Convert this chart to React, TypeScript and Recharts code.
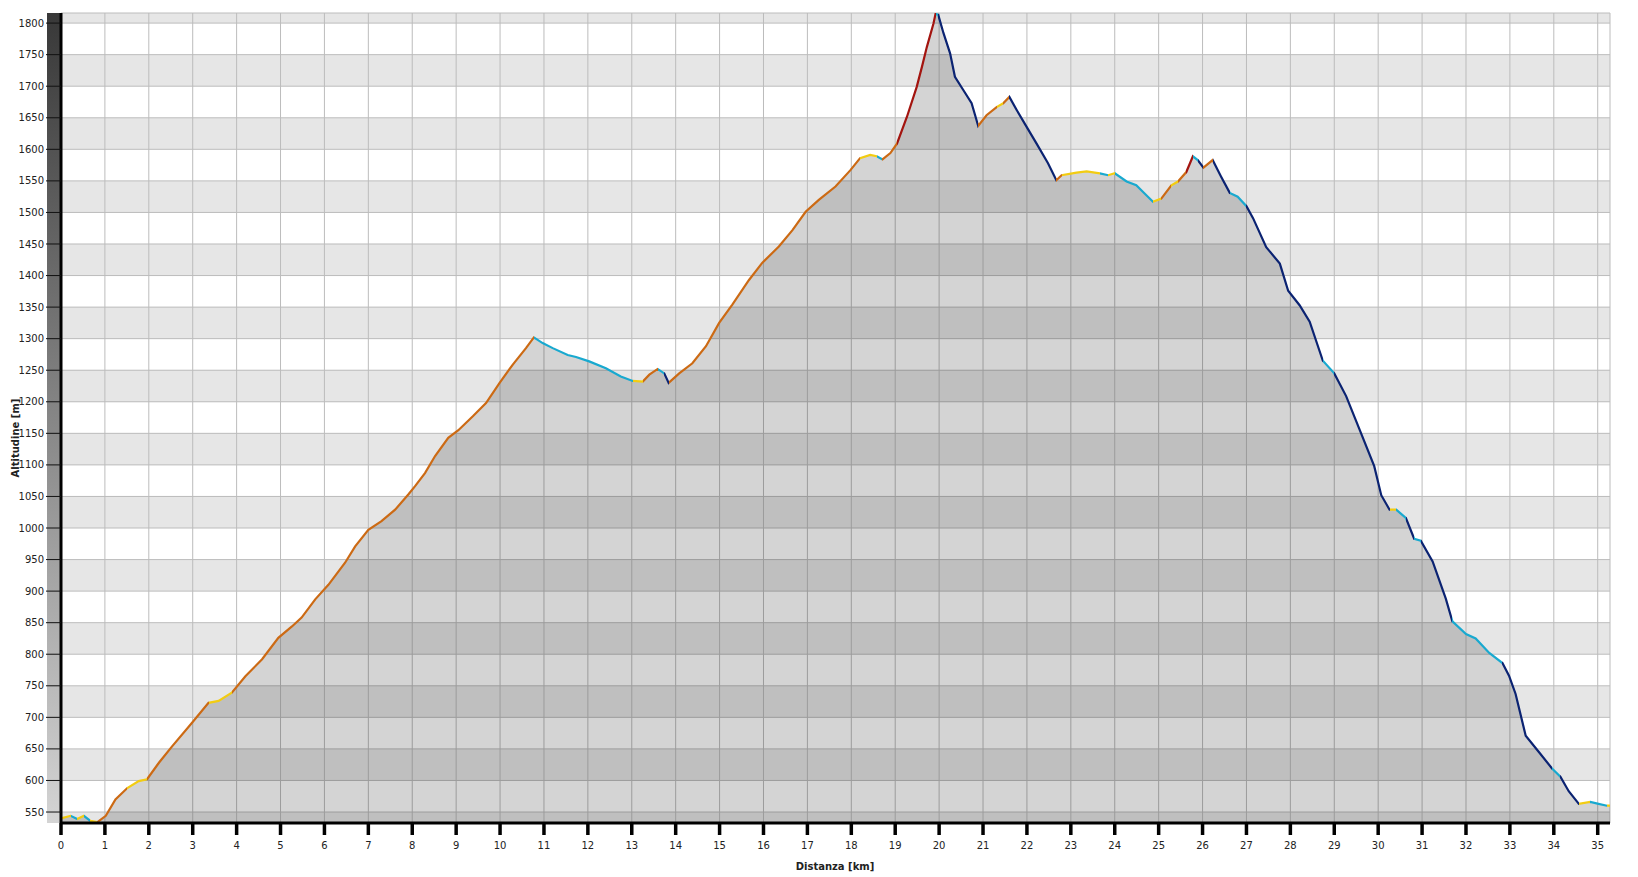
import { ComposedChart, Area, Line, XAxis, YAxis, CartesianGrid } from "recharts";

// distance along the track [km]
const DIST = [
  0, 0.22, 0.37, 0.52, 0.67, 0.83, 1.02, 1.24, 1.51, 1.77, 1.96, 2.23, 2.53, 2.98, 3.36, 3.59, 3.89, 4.2,
  4.58, 4.95, 5.26, 5.48, 5.79, 6.09, 6.47, 6.7, 7.0, 7.3, 7.61, 7.91, 8.06, 8.29, 8.52, 8.82, 9.05, 9.38,
  9.68, 9.99, 10.29, 10.59, 10.77, 10.97, 11.2, 11.54, 11.73, 12.03, 12.41, 12.75, 13.02, 13.25, 13.4,
  13.59, 13.74, 13.84, 14.08, 14.38, 14.69, 14.99, 15.29, 15.67, 15.97, 16.35, 16.66, 16.96, 17.26, 17.64,
  17.98, 18.2, 18.43, 18.58, 18.71, 18.89, 19.04, 19.27, 19.49, 19.61, 19.72, 19.87, 19.92, 19.98, 20.1,
  20.25, 20.36, 20.55, 20.74, 20.82, 20.89, 21.08, 21.31, 21.46, 21.6, 21.77, 21.99, 22.22, 22.48, 22.67,
  22.79, 23.13, 23.36, 23.66, 23.85, 24.0, 24.27, 24.49, 24.68, 24.87, 25.06, 25.29, 25.44, 25.63, 25.78,
  25.89, 26.02, 26.23, 26.42, 26.62, 26.8, 27.0, 27.15, 27.45, 27.76, 27.95, 28.21, 28.44, 28.74, 29.0,
  29.27, 29.57, 29.91, 30.07, 30.26, 30.41, 30.63, 30.82, 30.97, 31.24, 31.54, 31.69, 32.0, 32.22, 32.53,
  32.83, 32.98, 33.13, 33.36, 33.66, 33.96, 34.15, 34.34, 34.57, 34.83, 35.02, 35.21, 35.28,
];

// altitude [m]
const ALT = [
  540, 544, 539, 544, 536, 534, 544, 570, 588, 599, 602, 628, 654, 691, 723, 726, 739, 765,
  792, 826, 844, 858, 887, 910, 945, 971, 997, 1011, 1029, 1053, 1066, 1087, 1114, 1143, 1155, 1177,
  1198, 1230, 1259, 1285, 1302, 1293, 1285, 1274, 1271, 1264, 1253, 1240, 1233, 1232, 1243,
  1252, 1245, 1230, 1245, 1261, 1288, 1325, 1354, 1393, 1420, 1446, 1472, 1501, 1520, 1541,
  1567, 1586, 1591, 1589, 1584, 1594, 1609, 1652, 1699, 1731, 1762, 1799, 1815, 1813, 1784,
  1752, 1715, 1694, 1673, 1654, 1637, 1654, 1667, 1673, 1683, 1662, 1636, 1609, 1578, 1551,
  1559, 1563, 1565, 1562, 1559, 1562, 1549, 1543, 1530, 1517, 1522, 1543, 1549, 1564, 1589,
  1583, 1571, 1583, 1557, 1531, 1525, 1510, 1491, 1445, 1419, 1376, 1353, 1327, 1265, 1245,
  1209, 1157, 1098, 1052, 1029, 1029, 1016, 983, 980, 947, 888, 852, 832, 825, 802,
  786, 766, 737, 671, 645, 619, 606, 583, 563, 566, 563, 560, 560,
];

const X_TICKS = [
  0, 1, 2, 3, 4, 5, 6, 7, 8, 9, 10, 11, 12, 13, 14, 15, 16, 17, 18, 19, 20, 21, 22, 23, 24, 25, 26, 27,
  28, 29, 30, 31, 32, 33, 34, 35,
];
const Y_TICKS = [
  550, 600, 650, 700, 750, 800, 850, 900, 950, 1000, 1050, 1100, 1150, 1200, 1250, 1300, 1350, 1400,
  1450, 1500, 1550, 1600, 1650, 1700, 1750, 1800,
];

const data = DIST.map((d, i) => ({ dist: d, alt: ALT[i] }));

// colour of the profile by gradient (%)
function slopeColor(s: number) {
  if (s > 13) return "#a3140f";
  if (s > 4.5) return "#cc6a14";
  if (s >= -1.5) return "#f2cc12";
  if (s >= -8) return "#19a9cf";
  return "#0b2372";
}

const x0 = DIST[0];
const xN = DIST[DIST.length - 1];
const stops: { off: number; color: string }[] = [];
for (let i = 0; i < DIST.length - 1; i++) {
  const s = ((ALT[i + 1] - ALT[i]) / ((DIST[i + 1] - DIST[i]) * 1000)) * 100;
  const c = slopeColor(s);
  stops.push({ off: (DIST[i] - x0) / (xN - x0), color: c });
  stops.push({ off: (DIST[i + 1] - x0) / (xN - x0), color: c });
}

const FONT = "'DejaVu Sans', Verdana, sans-serif";

const XTitle = () => (
  <text x={835} y={866} textAnchor="middle" dominantBaseline="central" fontFamily={FONT} fontSize={10} fontWeight="bold" fill="#222">
    Distanza [km]
  </text>
);

const YTitle = () => (
  <text
    x={15}
    y={438}
    transform="rotate(-90 15 438)"
    textAnchor="middle"
    dominantBaseline="central"
    fontFamily={FONT}
    fontSize={10}
    fontWeight="bold"
    fill="#222"
  >
    Altitudine [m]
  </text>
);

export default function App() {
  return (
    <div style={{ position: "absolute", left: 0, top: 0, width: 1638, height: 877, background: "#fff" }}>
      <div
        style={{
          position: "absolute",
          left: 47,
          top: 13,
          width: 13,
          height: 810,
          background: "linear-gradient(#383838, #d4d4d4)",
        }}
      />
      <ComposedChart
        width={1638}
        height={877}
        data={data}
        margin={{ top: 13, right: 28, bottom: 0, left: 0 }}
        style={{ position: "relative" }}
      >
        <defs>
          <linearGradient id="slopeGrad" x1="0" y1="0" x2="1" y2="0">
            {stops.map((s, i) => (
              <stop key={i} offset={s.off} stopColor={s.color} />
            ))}
          </linearGradient>
        </defs>
        <CartesianGrid
          stroke="#bcbcbc"
          horizontalFill={["#e6e6e6", "#ffffff"]}
          fillOpacity={1}
        />
        <XAxis
          dataKey="dist"
          type="number"
          domain={[0, 35.28]}
          ticks={X_TICKS}
          interval={0}
          height={54}
          axisLine={{ stroke: "#000", strokeWidth: 3 }}
          tickLine={{ stroke: "#000", strokeWidth: 3.5 }}
          tickSize={12}
          tickMargin={7}
          tick={{ fill: "#222", fontSize: 10, fontFamily: FONT }}
          label={<XTitle />}
        />
        <YAxis
          type="number"
          domain={[532.6, 1816]}
          allowDataOverflow
          ticks={Y_TICKS}
          interval={0}
          width={61}
          axisLine={{ stroke: "#000", strokeWidth: 3 }}
          tickLine={{ stroke: "#111", strokeWidth: 1 }}
          tickSize={15}
          tickMargin={2}
          tick={{ fill: "#222", fontSize: 10, fontFamily: FONT }}
          label={<YTitle />}
        />
        <Area
          type="linear"
          dataKey="alt"
          baseValue="dataMin"
          stroke="none"
          fill="#000"
          fillOpacity={0.17}
          isAnimationActive={false}
        />
        <Line
          type="linear"
          dataKey="alt"
          stroke="url(#slopeGrad)"
          strokeWidth={2.2}
          dot={false}
          activeDot={false}
          isAnimationActive={false}
        />
      </ComposedChart>
    </div>
  );
}
